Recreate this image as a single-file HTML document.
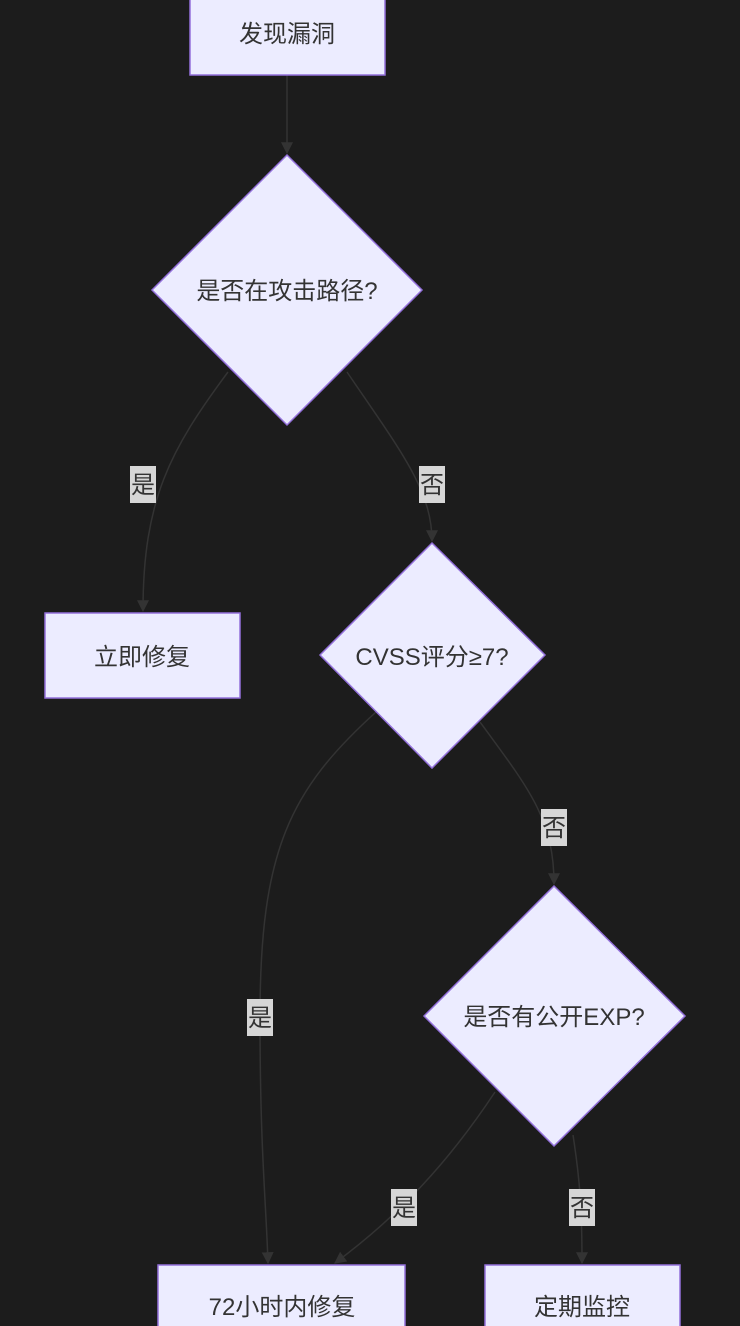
<!DOCTYPE html>
<html><head><meta charset="utf-8"><style>
body{margin:0;background:#1c1c1c;overflow:hidden;}
svg{display:block;}
svg text{font-family:"Liberation Sans","Noto Sans CJK SC",sans-serif;fill:#333;}
</style></head><body>
<svg width="740" height="1326" viewBox="0 0 740 1326" xmlns="http://www.w3.org/2000/svg">
<defs><marker id="a" viewBox="0 0 10 10" refX="9" refY="5" markerWidth="8" markerHeight="8" orient="auto"><path d="M0,0L10,5L0,10z" fill="#333"/></marker></defs>
<rect width="740" height="1326" fill="#1c1c1c"/>
<g fill="none" stroke="#333" stroke-width="1.5">
<path d="M287,75 L287,153" marker-end="url(#a)"/>
<path d="M228,372 C170,450 143,500 143,611" marker-end="url(#a)"/>
<path d="M347,372 C400,450 432,490 432,541" marker-end="url(#a)"/>
<path d="M376,712 C290,790 260,850 260,1017 C260,1150 266,1200 268,1263" marker-end="url(#a)"/>
<path d="M480,722 C530,790 554,820 554,884" marker-end="url(#a)"/>
<path d="M495,1092 C450,1160 400,1215 335,1263" marker-end="url(#a)"/>
<path d="M573,1135 C580,1180 582,1210 582,1263" marker-end="url(#a)"/>
</g>
<g fill="#ececff" stroke="#9370db" stroke-width="1.5">
<rect x="190" y="-10" width="195" height="85"/>
<polygon points="287,155 422,290 287,425 152,290"/>
<rect x="45" y="613" width="195" height="85"/>
<polygon points="432,543 545,655 432,768 320,655"/>
<polygon points="554,886 685,1016 554,1146 424,1016"/>
<rect x="158" y="1265" width="247" height="85"/>
<rect x="485" y="1265" width="195" height="85"/>
</g>
<g fill="#d6d6d6">
<rect x="130" y="466" width="26" height="37"/>
<rect x="419" y="466" width="26" height="37"/>
<rect x="541" y="809" width="26" height="37"/>
<rect x="247" y="999" width="26" height="37"/>
<rect x="391" y="1189" width="26" height="37"/>
<rect x="569" y="1189" width="26" height="37"/>
</g>
<g font-size="24" text-anchor="middle">
<text x="287" y="42">发现漏洞</text>
<text x="287" y="299">是否在攻击路径?</text>
<text x="142" y="665">立即修复</text>
<text x="432" y="665">CVSS评分≥7?</text>
<text x="554" y="1025">是否有公开EXP?</text>
<text x="282" y="1315">72小时内修复</text>
<text x="582" y="1315">定期监控</text>
<text x="143" y="493">是</text>
<text x="432" y="493">否</text>
<text x="554" y="836">否</text>
<text x="260" y="1026">是</text>
<text x="404" y="1216">是</text>
<text x="582" y="1216">否</text>
</g>
</svg>
</body></html>
